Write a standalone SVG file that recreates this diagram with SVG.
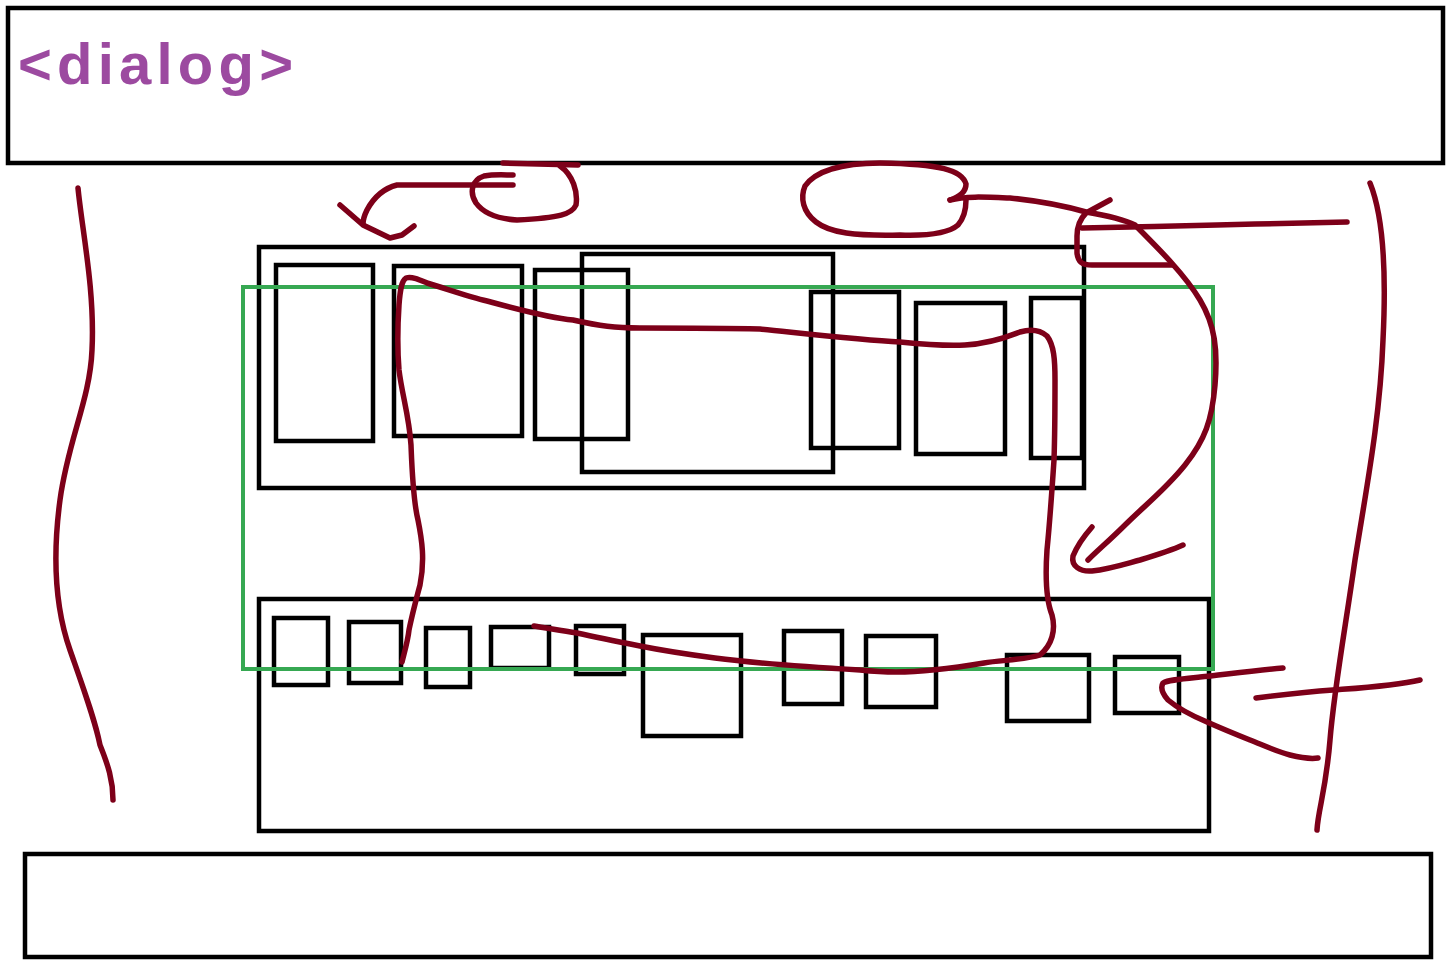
<svg xmlns="http://www.w3.org/2000/svg" width="1450" height="972" viewBox="0 0 1450 972">
<style>
.box{fill:none;stroke:#000;stroke-width:4.5}
.green{fill:none;stroke:#36a852;stroke-width:4}
.ink{fill:none;stroke:#7d0019;stroke-width:5.5;stroke-linecap:round;stroke-linejoin:round}
.label{font-family:"Liberation Sans",Arial,sans-serif;font-size:58px;font-weight:bold;fill:#9c4aa0}
</style>
<rect width="1450" height="972" fill="#fff"/>
<g id="dialog-header">
<rect class="box" x="8" y="8" width="1435" height="155"/>
<text class="label" x="18" y="84" textLength="275" lengthAdjust="spacing">&lt;dialog&gt;</text>
</g>
<g id="footer">
<rect class="box" x="25" y="854" width="1406" height="103"/>
</g>
<g id="upper-container">
<rect class="box" x="259" y="247" width="825" height="241"/>
<rect class="box" x="276" y="265" width="97" height="176"/>
<rect class="box" x="394" y="266" width="128" height="170"/>
<rect class="box" x="535" y="270" width="93" height="169"/>
<rect class="box" x="582" y="254" width="251" height="218"/>
<rect class="box" x="811" y="292" width="88" height="156"/>
<rect class="box" x="916" y="303" width="89" height="151"/>
<rect class="box" x="1031" y="298" width="51" height="160"/>
</g>
<g id="lower-container">
<rect class="box" x="259" y="599" width="950" height="232"/>
<rect class="box" x="274" y="618" width="54" height="67"/>
<rect class="box" x="349" y="622" width="52" height="61"/>
<rect class="box" x="426" y="628" width="44" height="59"/>
<rect class="box" x="491" y="627" width="58" height="41"/>
<rect class="box" x="576" y="626" width="48" height="48"/>
<rect class="box" x="643" y="635" width="98" height="101"/>
<rect class="box" x="784" y="631" width="58" height="73"/>
<rect class="box" x="866" y="636" width="70" height="71"/>
<rect class="box" x="1007" y="655" width="82" height="66"/>
<rect class="box" x="1115" y="657" width="64" height="56"/>
</g>
<g id="selection">
<rect class="green" x="243" y="287" width="970" height="382"/>
</g>
<g id="connectors">
<path class="ink" d="M78,188 C82,230 95,290 92,350 C90,400 68,440 60,500 C52,560 56,610 70,650 C84,690 95,720 100,745 C108,765 113,780 113,800"/>
<path class="ink" d="M1370,183 C1385,220 1386,280 1383,340 C1380,420 1366,490 1355,560 C1345,630 1334,690 1330,740 C1326,790 1318,810 1317,830"/>
<path class="ink" d="M503,163 L578,165"/>
<path class="ink" d="M560,166 C573,175 578,192 576,205 C572,214 560,218 517,220 C500,219 484,214 476,203 C469,192 472,180 484,176 C495,174 505,175 513,175"/>
<path class="ink" d="M513,185 L470,185 L397,185 C385,188 374,197 367,210 C364,216 363,220 363,224"/>
<path class="ink" d="M340,205 L363,225 L390,238 L402,235 L414,226"/>
<path class="ink" d="M950,200 C965,196 985,197 1010,198 C1040,201 1065,206 1086,212 C1110,216 1125,220 1135,225 C1160,250 1185,275 1200,300 C1215,325 1218,350 1215,385 C1212,420 1205,440 1185,465 C1165,490 1145,505 1125,525 C1110,540 1098,550 1088,560"/>
<path class="ink" d="M950,200 C962,196 966,190 966,184 C962,170 940,164 880,163 C840,163 815,172 805,186 C800,198 803,212 816,222 C830,233 855,236 900,235 C930,236 950,232 958,225 C964,218 966,208 966,200"/>
<path class="ink" d="M1110,200 L1086,213 C1079,220 1077,228 1077,236 L1077,253 C1078,262 1082,265 1092,265 L1172,265"/>
<path class="ink" d="M1082,228 C1130,227 1170,226 1217,225 C1260,224 1300,223 1347,222"/>
<path class="ink" d="M1092,527 C1085,535 1077,546 1073,556 C1071,566 1080,572 1092,571 C1110,569 1125,564 1140,560 C1160,554 1170,551 1183,545"/>
<path class="ink" d="M402,662 C405,650 408,640 409,630 C412,615 416,600 420,585 C425,560 422,540 418,520 C413,500 412,470 411,445 C409,415 402,395 399,370 C397,345 398,320 399,305 C400,292 401,281 406,278 C412,276 420,280 427,283 C450,290 470,297 487,301 C520,310 550,318 573,320 C600,326 615,328 640,328 C680,328 720,328 760,329 C800,333 860,340 900,342 C930,345 950,346 965,345 C985,344 1000,340 1020,332 C1030,329 1040,330 1047,336 C1054,345 1055,360 1055,380 C1055,400 1055,430 1054,460 C1052,490 1050,520 1047,550 C1045,580 1046,600 1052,615 C1056,630 1052,645 1040,655 C1025,660 1000,660 984,663 C960,667 920,672 896,672 C880,672 870,671 860,670 C810,667 760,664 715,658 C685,654 660,650 640,646 C620,642 600,638 577,633 C560,630 545,628 534,626"/>
<path class="ink" d="M1283,668 C1250,671 1220,675 1200,677 C1180,679 1168,680 1163,683 C1160,688 1162,693 1168,700 C1180,710 1195,717 1207,722 C1225,730 1240,736 1250,740 C1265,746 1278,752 1290,755 C1302,758 1312,759 1318,758"/>
<path class="ink" d="M1256,698 C1280,695 1305,692 1333,690 C1360,688 1395,686 1420,680"/>
</g>
</svg>
